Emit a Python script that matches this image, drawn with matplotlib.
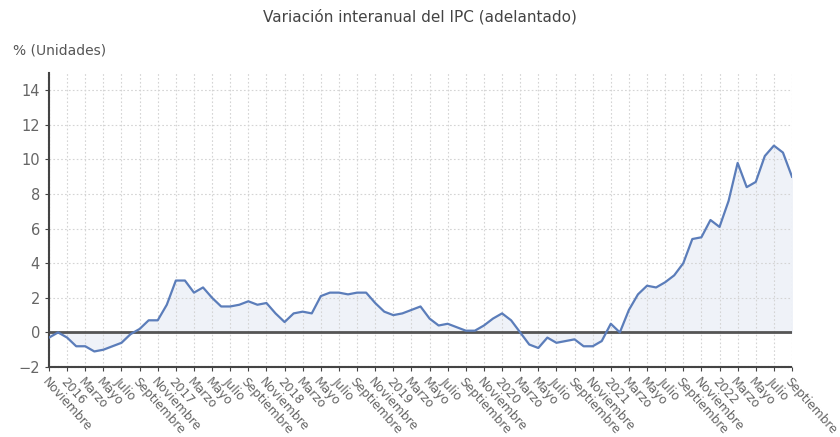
import matplotlib
matplotlib.use("Agg")
import matplotlib.pyplot as plt
import numpy as np

months = ["Noviembre", "Diciembre"] + [
    m for y in range(2016, 2023) for m in
    ["Enero", "Febrero", "Marzo", "Abril", "Mayo", "Junio", "Julio", "Agosto",
     "Septiembre", "Octubre", "Noviembre", "Diciembre"]]
years = [2015, 2015] + [y for y in range(2016, 2023) for _ in range(12)]
values = [-0.3, 0.0,
          -0.3, -0.8, -0.8, -1.1, -1.0, -0.8, -0.6, -0.1, 0.2, 0.7, 0.7, 1.6,
          3.0, 3.0, 2.3, 2.6, 2.0, 1.5, 1.5, 1.6, 1.8, 1.6, 1.7, 1.1,
          0.6, 1.1, 1.2, 1.1, 2.1, 2.3, 2.3, 2.2, 2.3, 2.3, 1.7, 1.2,
          1.0, 1.1, 1.3, 1.5, 0.8, 0.4, 0.5, 0.3, 0.1, 0.1, 0.4, 0.8,
          1.1, 0.7, 0.0, -0.7, -0.9, -0.3, -0.6, -0.5, -0.4, -0.8, -0.8, -0.5,
          0.5, 0.0, 1.3, 2.2, 2.7, 2.6, 2.9, 3.3, 4.0, 5.4, 5.5, 6.5,
          6.1, 7.6, 9.8, 8.4, 8.7, 10.2, 10.8, 10.4, 9.0]
n = len(values)
months = months[:n]
years = years[:n]

labels = []
for m, y in zip(months, years):
    labels.append(str(y) if m == "Enero" else m)

x = np.arange(n)
fig = plt.figure(figsize=(8.4, 4.37), dpi=100)
ax = fig.add_axes([49/840, 1-367/437, (792-49)/840, (367-73)/437])

ax.fill_between(x, values, 0, color="#eff2f8", zorder=1)
ax.plot(x, values, color="#5b7dba", lw=1.6, zorder=3)
ax.axhline(0, color="#555555", lw=2, zorder=2)

ax.set_xlim(0, n-1)
ax.set_ylim(-2, 15)
ax.set_yticks(range(-2, 15, 2))
tick_pos = x[::2]
ax.set_xticks(tick_pos)
ax.set_xticklabels([labels[i] for i in tick_pos], rotation=-48, ha="left", va="top",
                   rotation_mode="anchor", fontsize=8.8, color="#666666")
for t in ax.get_yticklabels():
    t.set_color("#666666"); t.set_fontsize(10.5)
ax.tick_params(axis="both", length=3, color="#444444")
ax.tick_params(axis="x", pad=3)

ax.grid(True, color="#d4d4d4", ls=(0, (1.5, 2)), lw=0.8, zorder=0)
for s in ["top", "right"]:
    ax.spines[s].set_visible(False)
for s in ["left", "bottom"]:
    ax.spines[s].set_color("#444444")
    ax.spines[s].set_linestyle((0, (1, 0.6)))
    ax.spines[s].set_linewidth(1.5)

fig.text(0.5, 1-17/437, "Variación interanual del IPC (adelantado)", ha="center", va="center",
         fontsize=11, color="#444444")
fig.text(13/840, 1-50/437, "% (Unidades)", ha="left", va="center", fontsize=10, color="#555555")

fig.savefig("out.png", dpi=100)
